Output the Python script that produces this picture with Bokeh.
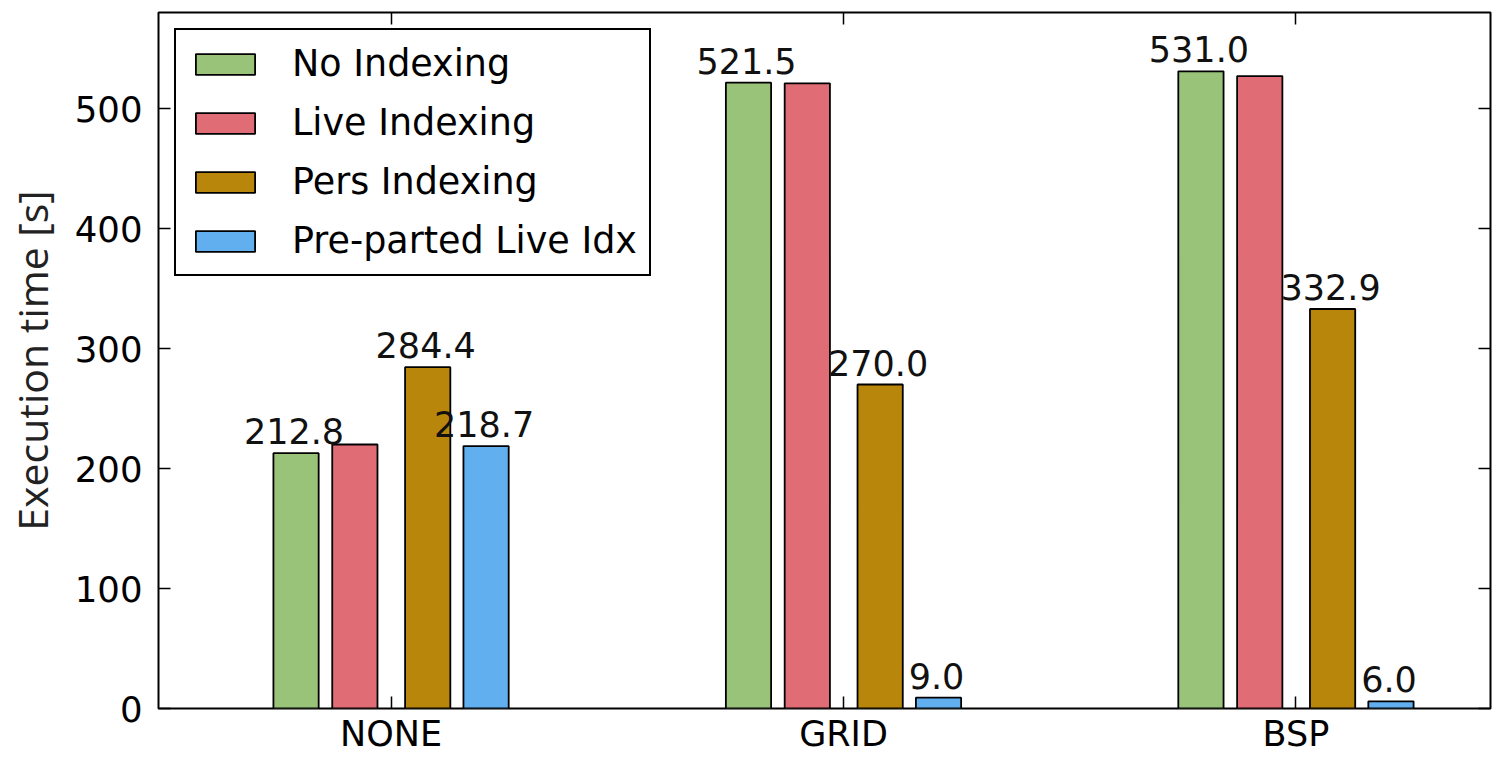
from bokeh.plotting import figure
from bokeh.models import (LinearAxis, FixedTicker, Range1d, ColumnDataSource,
                          LabelSet, Legend, LegendItem, CustomLabelingPolicy)
from bokeh.embed import file_html
from bokeh.resources import INLINE
from bokeh.core.properties import value

# ---- data ----
categories = ["NONE", "GRID", "BSP"]
no_indexing = [212.8, 521.5, 531.0]
live_indexing = [220.0, 521.0, 527.0]
pers_indexing = [284.4, 270.0, 332.9]
preparted_live_idx = [218.7, 9.0, 6.0]
series_names = ["No Indexing", "Live Indexing", "Pers Indexing", "Pre-parted Live Idx"]
y_ticks = [0, 100, 200, 300, 400, 500]

# ---- style ----
series_values = [no_indexing, live_indexing, pers_indexing, preparted_live_idx]
colors = ["#98C379", "#E06C75", "#B8860B", "#61AFEF"]
offsets = [-0.21, -0.08, 0.081, 0.21]
labeled = [True, False, True, True]
bar_width = 0.1
FONT = "DejaVu Sans"

p = figure(width=1495, height=756, output_backend="svg", toolbar_location=None,
           x_range=Range1d(-0.514, 2.430), y_range=Range1d(0, 580),
           min_border_left=100, min_border_top=12, min_border_right=1,
           min_border_bottom=10)
p.xgrid.visible = False
p.ygrid.visible = False
p.outline_line_color = "black"
p.outline_line_width = 2
p.outline_line_alpha = 1

cat_pos = list(range(len(categories)))
overrides = {i: c for i, c in enumerate(categories)}

# bottom axis
xa = p.xaxis[0]
xa.ticker = FixedTicker(ticks=cat_pos)
xa.major_label_overrides = overrides
xa.major_label_text_font = FONT
xa.major_label_text_font_size = "35px"
xa.major_label_text_color = "black"
xa.major_label_standoff = 5
xa.axis_label_standoff = 0
xa.major_tick_in = 12
xa.major_tick_out = 0
xa.major_tick_line_color = "black"
xa.major_tick_line_width = 1.5
xa.minor_tick_line_color = None
xa.axis_line_color = None

# left axis
ya = p.yaxis[0]
ya.ticker = FixedTicker(ticks=y_ticks)
ya.major_label_text_font = FONT
ya.major_label_text_font_size = "35.5px"
ya.major_label_text_color = "black"
ya.major_label_standoff = 16
ya.major_tick_in = 12
ya.major_tick_out = 0
ya.major_tick_line_color = "black"
ya.major_tick_line_width = 1.5
ya.minor_tick_line_color = None
ya.axis_line_color = None
ya.axis_label = "Execution time [s]"
ya.axis_label_text_font = "Open Sans"
ya.axis_label_text_font_style = "normal"
ya.axis_label_text_font_size = "41px"
ya.axis_label_text_color = "#222222"
ya.axis_label_standoff = 12

# right and top axes (ticks only, no labels)
no_labels = CustomLabelingPolicy(code="for (const i of indices) indices.unset(i); return indices")
ra = LinearAxis(ticker=FixedTicker(ticks=y_ticks), major_label_text_font_size="1px",
                major_label_policy=no_labels, axis_label_standoff=0,
                major_label_standoff=0, major_tick_in=12, major_tick_out=0,
                major_tick_line_width=1.5, minor_tick_line_color=None,
                axis_line_color=None)
p.add_layout(ra, "right")
ta = LinearAxis(ticker=FixedTicker(ticks=cat_pos), major_label_text_font_size="1px",
                major_label_policy=no_labels, axis_label_standoff=0,
                major_label_standoff=0, major_tick_in=12, major_tick_out=0,
                major_tick_line_width=1.5, minor_tick_line_color=None,
                axis_line_color=None)
p.add_layout(ta, "above")

items = []
for name, vals, col, off, lab in zip(series_names, series_values, colors, offsets, labeled):
    src = ColumnDataSource(dict(
        x=[c + off for c in cat_pos],
        top=vals,
        label=["%.1f" % v for v in vals],
    ))
    r = p.vbar(x="x", top="top", width=bar_width, source=src, fill_color=col,
               line_color="black", line_width=1.8)
    items.append(LegendItem(label=name, renderers=[r]))
    if lab:
        ls = LabelSet(x="x", y="top", text="label", source=src, text_align="center",
                      text_baseline="alphabetic", y_offset=9, x_offset=-2,
                      text_font=value(FONT), text_font_size=value("35px"),
                      text_color="#111111")
        p.add_layout(ls)

legend = Legend(items=items, location="top_left", margin=16, padding=12, spacing=16,
                glyph_width=74, glyph_height=26, label_standoff=30,
                label_text_font=FONT, label_text_font_size="36.5px",
                label_text_color="black", border_line_color="black",
                border_line_width=2, border_line_alpha=1, background_fill_alpha=1)
p.add_layout(legend)

open("out.html", "w").write(file_html(p, INLINE))
